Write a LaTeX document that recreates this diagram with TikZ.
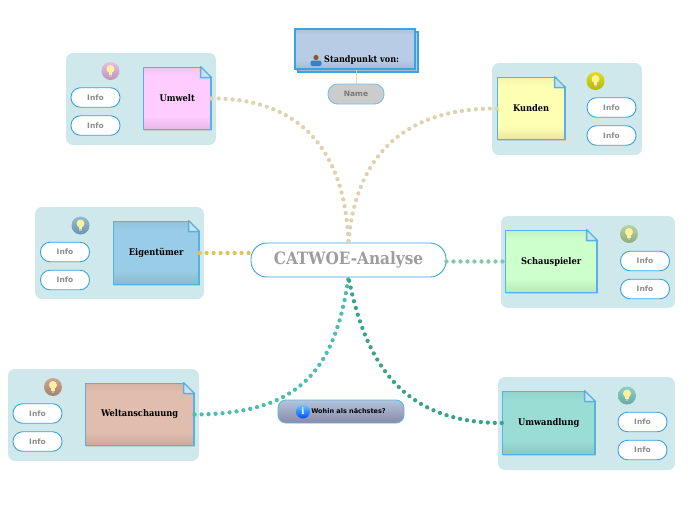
\documentclass[tikz,border=0pt]{standalone}
\usepackage{fontspec}
\setmainfont{DejaVu Serif Condensed}
\newfontfamily\infofont{DejaVu Sans}
\usetikzlibrary{shadows,calc}

\definecolor{panelfill}{HTML}{CEE8EB}
\definecolor{edgeblue}{HTML}{3AA3E0}
\definecolor{foldblue}{HTML}{C9E3EE}
\definecolor{labelgray}{HTML}{8C8C8C}
\definecolor{linebeige}{HTML}{DED3B0}
\definecolor{linegold}{HTML}{E0C45A}
\definecolor{linegreen}{HTML}{7CCBA5}
\definecolor{lineteal}{HTML}{4DBDB0}
\definecolor{linedeep}{HTML}{3AA38C}
\definecolor{viewfill}{HTML}{B8CCE6}
\definecolor{umweltfill}{HTML}{FFCCFF}
\definecolor{kundenfill}{HTML}{FFFFB3}
\definecolor{eigentuemerfill}{HTML}{99CCE6}
\definecolor{schauspielerfill}{HTML}{CCFFCC}
\definecolor{weltfill}{HTML}{E0BDAD}
\definecolor{umwandlungfill}{HTML}{99DDD5}
\definecolor{bulblight}{HTML}{FFF0A0}
\definecolor{umweltball}{HTML}{E0B0E0}
\definecolor{kundenball}{HTML}{D8D800}
\definecolor{eigentuemerball}{HTML}{7FB0CC}
\definecolor{schauspielerball}{HTML}{A8CC90}
\definecolor{weltball}{HTML}{C09880}
\definecolor{umwandlungball}{HTML}{78C8C0}
\colorlet{notetint}{white}

\pgfdeclareverticalshading[notetint]{noteshade}{100bp}{color(0bp)=(notetint!90!black); color(25bp)=(notetint!90!black); color(36bp)=(notetint); color(68bp)=(notetint); color(75bp)=(notetint!95!black); color(100bp)=(notetint!95!black)}

\tikzset{
    panelbox/.style={fill=panelfill, rounded corners=7pt, minimum height=92pt},
    notebox/.style={/utils/exec=\colorlet{notetint}{#1}, draw=edgeblue!85!white, line width=1.3pt, minimum height=62.5pt, shading=noteshade, drop shadow={opacity=0.25, shadow xshift=1pt, shadow yshift=-1.5pt}, font=\bfseries\fontsize{9.2}{11}\selectfont},
    infobox/.style={draw=edgeblue, fill=white, line width=0.9pt, rounded corners=9.5pt, minimum width=49pt, minimum height=19.5pt, text=labelgray, font=\infofont\bfseries\fontsize{7.5}{9}\selectfont},
    bulbball/.style={circle, minimum size=18pt, inner sep=0pt, top color=#1!85!white, bottom color=#1!85!black},
    dotline/.style={line width=4.3pt, line cap=round, dash pattern=on 0pt off 7pt, #1},
}

\begin{document}
\begin{tikzpicture}[x=1pt, y=-1pt, node distance=28pt]
    \useasboundingbox (0,0) rectangle (697,520);

    \node[panelbox, minimum width=150pt] (umwelt_panel) at (141,99) {};
    \node[panelbox, minimum width=150pt] (kunden_panel) at (567,109) {};
    \node[panelbox, minimum width=169pt] (eigentuemer_panel) at (119.5,253) {};
    \node[panelbox, minimum width=174pt] (schauspieler_panel) at (588,262) {};
    \node[panelbox, minimum width=191pt] (weltanschauung_panel) at (103.5,415) {};
    \node[panelbox, minimum width=177pt, minimum height=93pt] (umwandlung_panel) at (586.5,423.5) {};

    \node[notebox=umweltfill, minimum width=67.5pt] (umwelt) at (177.2,98.5) {Umwelt};
    \node[notebox=kundenfill, minimum width=67.5pt] (kunden) at (531.2,108.5) {Kunden};
    \node[notebox=eigentuemerfill, minimum width=85.5pt, minimum height=63.5pt] (eigentuemer) at (156.2,253) {Eigentümer};
    \node[notebox=schauspielerfill, minimum width=91.5pt] (schauspieler) at (551.2,261.5) {Schauspieler};
    \node[notebox=weltfill, minimum width=108.5pt] (weltanschauung) at (139.7,414.5) {Weltanschauung};
    \node[notebox=umwandlungfill, minimum width=92.5pt, minimum height=63.5pt] (umwandlung) at (548.7,423) {Umwandlung};

    \foreach \name in {umwelt,kunden,eigentuemer,schauspieler,weltanschauung,umwandlung} {
        \fill[panelfill] ($(\name.north east)+(-11,-1)$) -- ($(\name.north east)+(1,-1)$) -- ($(\name.north east)+(1,11)$) -- cycle;
        \draw[edgeblue!85!white, line width=1.3pt, fill=foldblue, line join=round] ($(\name.north east)+(-11,0)$) -- ($(\name.north east)+(-11,11)$) -- ($(\name.north east)+(0,11)$) -- cycle;
    }

    \node[infobox] (umwelt_info_a) at (95.5,97.5) {Info};
    \node[infobox] (umwelt_info_b) [below of=umwelt_info_a] {Info};
    \node[infobox] (kunden_info_a) at (611.5,107.5) {Info};
    \node[infobox] (kunden_info_b) [below of=kunden_info_a] {Info};
    \node[infobox] (eigentuemer_info_a) at (65,252) {Info};
    \node[infobox] (eigentuemer_info_b) [below of=eigentuemer_info_a] {Info};
    \node[infobox] (schauspieler_info_a) at (645,261) {Info};
    \node[infobox] (schauspieler_info_b) [below of=schauspieler_info_a] {Info};
    \node[infobox] (weltanschauung_info_a) at (37.5,413.5) {Info};
    \node[infobox] (weltanschauung_info_b) [below of=weltanschauung_info_a] {Info};
    \node[infobox] (umwandlung_info_a) at (642.5,422) {Info};
    \node[infobox] (umwandlung_info_b) [below of=umwandlung_info_a] {Info};

    \node[bulbball=umweltball] (umwelt_bulb) at (110.5,71) {};
    \node[bulbball=kundenball] (kunden_bulb) at (595.5,81) {};
    \node[bulbball=eigentuemerball] (eigentuemer_bulb) at (80.5,225.5) {};
    \node[bulbball=schauspielerball] (schauspieler_bulb) at (629,234) {};
    \node[bulbball=weltball] (weltanschauung_bulb) at (53,387) {};
    \node[bulbball=umwandlungball] (umwandlung_bulb) at (627,395.5) {};
    \foreach \name in {umwelt,kunden,eigentuemer,schauspieler,weltanschauung,umwandlung} {
        \fill[bulblight] ($(\name_bulb)+(0,-2)$) circle (4pt);
        \fill[bulblight] ($(\name_bulb)+(-1.8,0)$) rectangle ($(\name_bulb)+(1.8,3.5)$);
        \fill[gray!50] ($(\name_bulb)+(-1.3,3.5)$) rectangle ($(\name_bulb)+(1.3,5.5)$);
    }

    % main topic
    \node[draw=edgeblue, fill=white, line width=0.9pt, rounded corners=16pt, minimum width=195pt, minimum height=34pt, text=labelgray!85!white, font=\bfseries\fontsize{17}{19}\selectfont] (center) at (348.5,260) {CATWOE-Analyse};

    \draw[dotline=linebeige] (umwelt.east) .. controls (300,98) and (345,150) .. (center.north);
    \draw[dotline=linebeige] (kunden.west) .. controls (400,108) and (355,160) .. (center.north);
    \draw[dotline=linegold] (eigentuemer.east) -- (center.west |- eigentuemer.east);
    \draw[dotline=linegreen] (center.east |- schauspieler.west) -- (schauspieler.west);
    \draw[dotline=lineteal] (weltanschauung.east) .. controls (300,414) and (335,370) .. (center.south);
    \draw[dotline=linedeep] (umwandlung.west) .. controls (400,423) and (365,360) .. (center.south);

    % viewpoint
    \node[draw=edgeblue, fill=viewfill, line width=1.1pt, minimum width=120pt, minimum height=40pt, drop shadow={opacity=0.2, shadow xshift=1pt, shadow yshift=-1pt}] (standpunkt_back) at (358,52) {};
    \node[notebox=viewfill, draw=edgeblue, minimum width=120pt, minimum height=40pt] (standpunkt) at (355,49) {};
    \node[font=\bfseries\fontsize{9}{11}\selectfont, anchor=west, inner sep=0pt] (standpunkt_text) at (324,60) {Standpunkt von:};
    \fill[brown!70!black] (316,57.5) circle (2.6pt);
    \fill[cyan!60!blue!80!gray, rounded corners=2pt] (310.5,66) rectangle (321.5,60.5);
    \node[draw=edgeblue!70!white, fill=gray!40, line width=0.9pt, rounded corners=9.5pt, minimum width=56pt, minimum height=20pt, text=labelgray!85!black, font=\infofont\bfseries\fontsize{7.5}{9}\selectfont] (name) at (356,94) {Name};
    \draw[linebeige, line width=1pt] (standpunkt.south -| name.north) -- (name.north);

    % next question
    \node[draw=edgeblue!80!white, line width=0.9pt, rounded corners=8pt, minimum width=126pt, minimum height=23pt, top color=viewfill!90!gray, bottom color=gray!85!blue!80, font=\infofont\bfseries\fontsize{6.5}{8}\selectfont] (wohin) at (341,411.5) {\hspace*{15pt}Wohin als nächstes?};
    \node[circle, minimum size=14pt, inner sep=0pt, top color=blue!35!cyan!60!white, bottom color=blue!70!cyan, text=white, font=\bfseries\fontsize{9}{9}\selectfont] (wohin_icon) at (303,411.5) {i};
\end{tikzpicture}
\end{document}
